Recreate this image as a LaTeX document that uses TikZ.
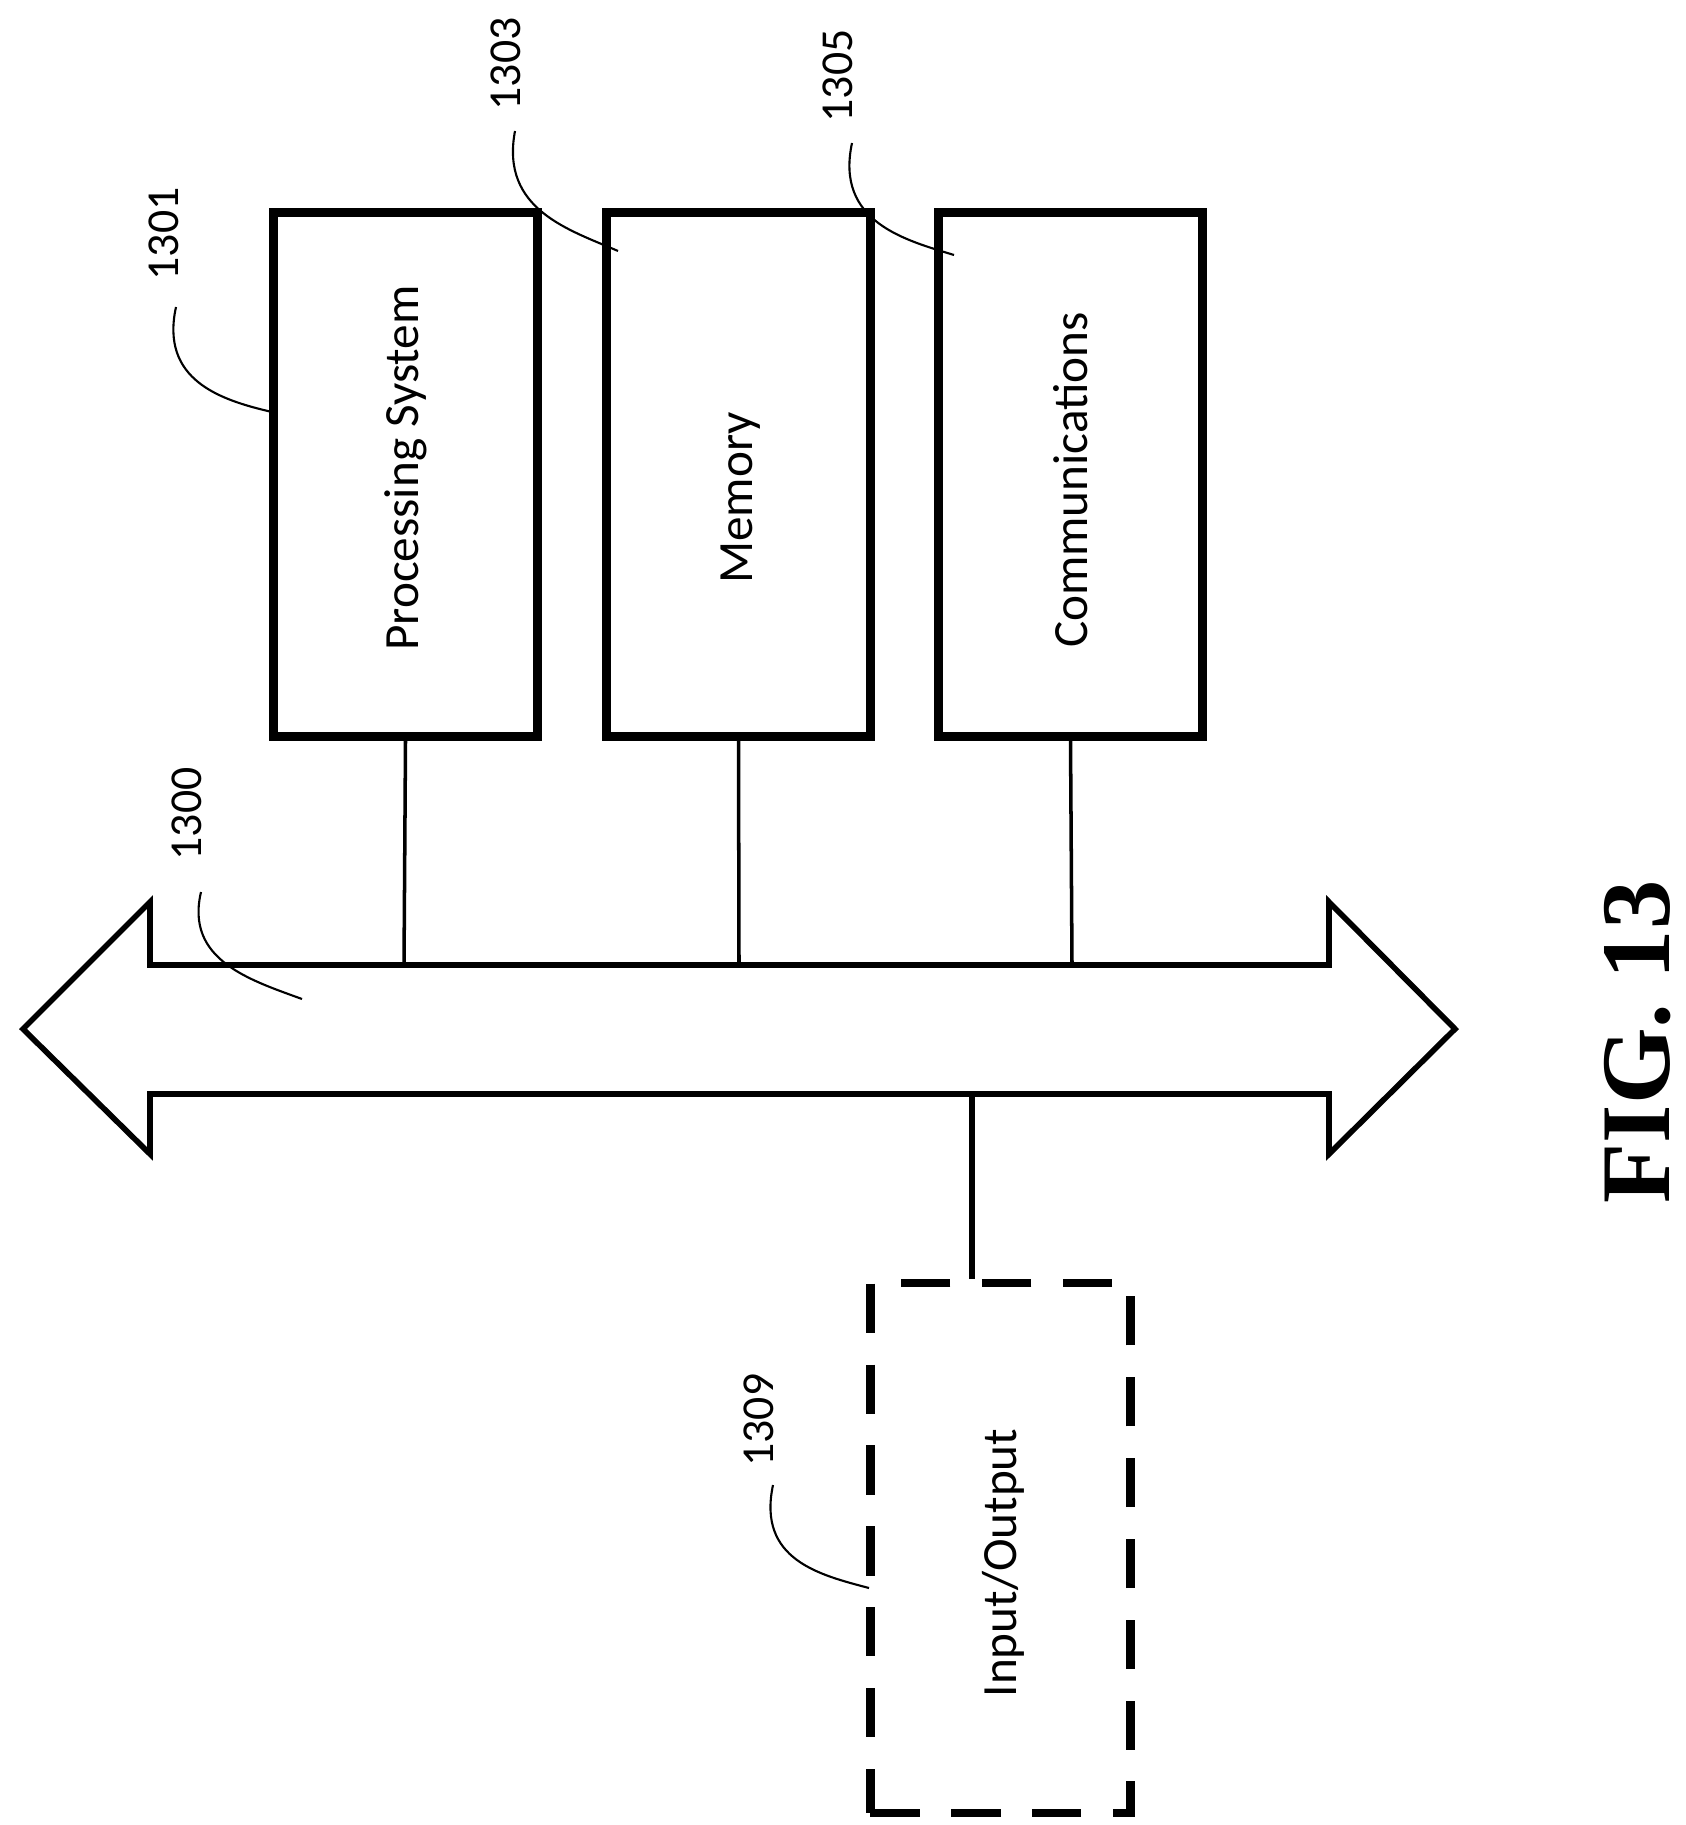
\documentclass[tikz,border=0pt]{standalone}
\usepackage{fontspec}
\setmainfont{Carlito}
\newfontfamily\figfont{Liberation Serif}
\begin{document}
\begin{tikzpicture}[x=0.01cm,y=-0.01cm,
  blk/.style={draw,line width=2.4pt,minimum width=2.64cm,minimum height=5.24cm,inner sep=0},
  io/.style={draw,line width=2.4pt,dash pattern=on 14pt off 9pt,minimum width=2.6cm,minimum height=5.3cm,inner sep=0},
  lbl/.style={rotate=90,font=\fontsize{14}{16}\selectfont},
  ref/.style={rotate=90,font=\fontsize{13}{15}\selectfont},
  lead/.style={line width=0.6pt},
  conn/.style={line width=1pt}]
\useasboundingbox (0,0) rectangle (1686,1825);
\node[blk] (ps) at (405.5,474.5) {};
\node[blk] (mem) at (738.5,474.5) {};
\node[blk] (com) at (1070.5,474.5) {};
\node[io] (io) at (1000.5,1548) {};
\node[lbl] at (406,468) {Processing System};
\node[lbl] at (741,498) {Memory};
\node[lbl] at (1071,480) {Communications};
\node[lbl] at (1003,1563) {Input/Output};
% bus
\draw[line width=1.6pt,fill=white] (150,965) -- (1329,965) -- (1329,902) -- (1455,1029) -- (1329,1154) -- (1329,1094) -- (150,1094) -- (150,1154) -- (23,1029) -- (150,902) -- cycle;
\coordinate (b1) at (404,965);
\coordinate (b2) at (739,965);
\coordinate (b3) at (1072,965);
\coordinate (b4) at (972,1094);
\draw[conn] (ps.south) -- (b1);
\draw[conn] (mem.south) -- (b2);
\draw[conn] (com.south) -- (b3);
\draw[line width=1.8pt] (b4) -- (io.north -| b4);
% reference numerals
\node[ref] (r1301) at (164,234) {1301};
\node[ref] (r1303) at (506,64) {1303};
\node[ref] (r1305) at (838,76) {1305};
\node[ref] (r1300) at (187,814) {1300};
\node[ref] (r1309) at (759,1420) {1309};
\draw[lead] (176,307) .. controls (160,380) and (220,400) .. (272,412);
\draw[lead] (515,131) .. controls (500,210) and (570,230) .. (618,251);
\draw[lead] (852,143) .. controls (835,222) and (905,240) .. (954,255);
\draw[lead] (201,892) .. controls (185,960) and (250,980) .. (302,999);
\draw[lead] (773,1485) .. controls (757,1560) and (820,1575) .. (869,1588);
\node[rotate=90,font=\figfont\bfseries\fontsize{28}{32}\selectfont] (fig) at (1638,1042) {FIG. 13};
\end{tikzpicture}
\end{document}
